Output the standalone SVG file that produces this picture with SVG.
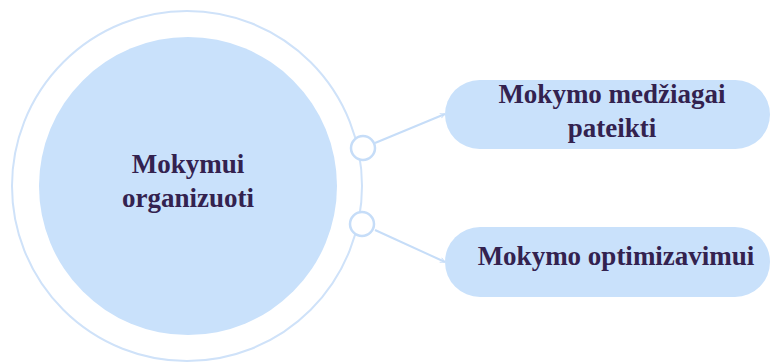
<svg xmlns="http://www.w3.org/2000/svg" width="775" height="363" viewBox="0 0 775 363">
  <style>
    .fill { fill: #c9e1fb; }
    .ring { fill: none; stroke: #cfe2f9; stroke-width: 2; }
    .dot { fill: #ffffff; stroke: #c6ddf8; stroke-width: 2.5; }
    .link { fill: none; stroke: #c6ddf8; stroke-width: 2; marker-end: url(#tip); }
    .label { font-family: Liberation Serif, Times New Roman, serif; font-weight: bold; font-size: 27px; fill: #33224f; text-anchor: middle; }
  </style>
  <defs>
    <marker id="tip" viewBox="0 0 10 10" refX="9" refY="5" markerWidth="6" markerHeight="6" orient="auto" markerUnits="userSpaceOnUse">
      <path d="M1,1 L9,5 L1,9" fill="none" stroke="#c6ddf8" stroke-width="1.5"/>
    </marker>
  </defs>
  <rect width="775" height="363" fill="#ffffff"/>

  <g id="hub">
    <circle class="ring" cx="187" cy="186" r="175"/>
    <circle class="fill" cx="188" cy="186" r="149"/>
    <text class="label" x="188" y="173">Mokymui</text>
    <text class="label" x="188" y="207">organizuoti</text>
  </g>

  <g id="connectors">
    <line class="link" x1="375" y1="143" x2="445" y2="114"/>
    <line class="link" x1="375" y1="230" x2="445" y2="262"/>
  </g>

  <g id="port-top">
    <circle class="dot" cx="363" cy="148" r="12"/>
  </g>
  <g id="port-bottom">
    <circle class="dot" cx="362" cy="224" r="12"/>
  </g>

  <g id="node-material">
    <rect class="fill" x="445" y="80" width="325" height="69" rx="34.5"/>
    <text class="label" x="612" y="103">Mokymo medžiagai</text>
    <text class="label" x="612" y="137">pateikti</text>
  </g>

  <g id="node-optimize">
    <rect class="fill" x="445" y="227" width="325" height="70" rx="35"/>
    <text class="label" x="616" y="265">Mokymo optimizavimui</text>
  </g>
</svg>
